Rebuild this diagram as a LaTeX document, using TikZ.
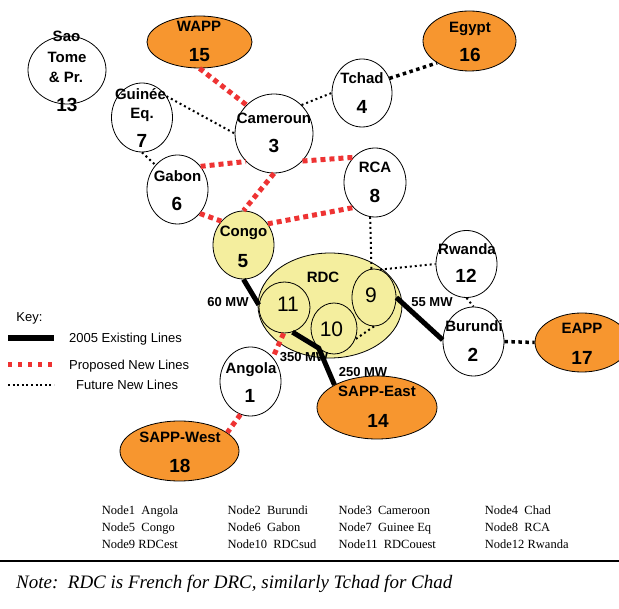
\documentclass[tikz,border=0pt]{standalone}
\usepackage{fontspec}
\setmainfont{Liberation Sans}
\newfontfamily\tablefont{Liberation Serif}
\usetikzlibrary{shapes.geometric}
\definecolor{pool}{HTML}{F7962F}
\definecolor{rdcfill}{HTML}{F4EE9E}
\definecolor{proposed}{HTML}{EE3333}

\tikzset{
  site/.style={ellipse, draw, line width=0.8pt, fill=white, inner sep=0pt},
  poolsite/.style={site, fill=pool},
  zone/.style={site, fill=rdcfill},
  nm/.style={font=\fontsize{15}{15}\selectfont\bfseries, inner sep=0pt,
    text height=10.7pt, text depth=0pt},
  nb/.style={font=\fontsize{19}{19}\selectfont\bfseries, inner sep=0pt,
    text height=13.6pt, text depth=0pt},
  sub/.style={font=\fontsize{21}{21}\selectfont, inner sep=0pt,
    text height=15pt, text depth=0pt},
  mw/.style={font=\fontsize{13}{13}\selectfont\bfseries, inner sep=0pt,
    text height=9.3pt, text depth=0pt},
  keytext/.style={font=\fontsize{13}{13}\selectfont, inner sep=0pt,
    text height=9.3pt, text depth=0pt},
  tabtext/.style={font=\tablefont\fontsize{12.5}{12.5}\selectfont,
    anchor=base west, inner sep=0pt},
  existing/.style={line width=5pt},
  newline/.style={proposed, line width=5pt, dash pattern=on 5pt off 4pt},
  future/.style={line width=2pt, dash pattern=on 2pt off 3pt},
  futurethick/.style={line width=3.5pt, dash pattern=on 3.5pt off 3.5pt},
}

\begin{document}
\begin{tikzpicture}[x=1pt, y=-1pt]
  \useasboundingbox (0,0) rectangle (619,609);

  % RDC zone and its three sub-nodes
  \node[zone, minimum width=144pt, minimum height=105pt] (rdc) at (330,305.5) {};
  \node[zone, minimum width=51pt, minimum height=51pt] (n11) at (284.5,307.5) {};
  \node[zone, minimum width=46pt, minimum height=51pt] (n10) at (334,328.5) {};
  \node[zone, minimum width=44pt, minimum height=57pt] (n9) at (374,297.5) {};

  % Countries
  \node[site, minimum width=78pt, minimum height=68pt] (n13) at (67,70) {};
  \node[site, minimum width=61pt, minimum height=69pt] (n7) at (142,117.5) {};
  \node[site, minimum width=78pt, minimum height=79pt] (n3) at (274,133.5) {};
  \node[site, minimum width=61pt, minimum height=69pt] (n6) at (177.5,189.5) {};
  \node[site, minimum width=60pt, minimum height=68pt] (n4) at (362,93) {};
  \node[site, minimum width=62pt, minimum height=69pt] (n8) at (375,182.5) {};
  \node[zone, minimum width=61pt, minimum height=68pt] (n5) at (243.5,245) {};
  \node[site, minimum width=61pt, minimum height=67pt] (n12) at (466.5,264) {};
  \node[site, minimum width=61pt, minimum height=69pt] (n2) at (473.5,341.5) {};
  \node[site, minimum width=61pt, minimum height=69pt] (n1) at (250.5,381.5) {};

  % Power pools
  \node[poolsite, minimum width=105pt, minimum height=52pt] (n15) at (199.5,42) {};
  \node[poolsite, minimum width=93pt, minimum height=60pt] (n16) at (469.5,41) {};
  \node[poolsite, minimum width=94pt, minimum height=59pt] (n17) at (582,342.5) {};
  \node[poolsite, minimum width=120pt, minimum height=63pt] (n14) at (377,407.5) {};
  \node[poolsite, minimum width=119pt, minimum height=60pt] (n18) at (179.5,451) {};

  % Names and numbers
  \node[nm] (n13a) at (66.5,36) {Sao};
  \node[nm] (n13b) at (67,57.5) {Tome};
  \node[nm] (n13c) at (66,77) {\& Pr.};
  \node[nb] (n13num) at (67,104.5) {13};
  \node[nm] (n15name) at (199,26.5) {WAPP};
  \node[nb] (n15num) at (199.5,54.5) {15};
  \node[nm] (n7a) at (140.5,94) {Guinée};
  \node[nm] (n7b) at (142,113) {Eq.};
  \node[nb] (n7num) at (142,140.5) {7};
  \node[nm] (n3name) at (274,118.5) {Cameroun};
  \node[nb] (n3num) at (274,146) {3};
  \node[nm] (n6name) at (177.5,176) {Gabon};
  \node[nb] (n6num) at (177,204) {6};
  \node[nm] (n5name) at (243.5,231.5) {Congo};
  \node[nb] (n5num) at (243,260.5) {5};
  \node[nm] (n4name) at (362,78) {Tchad};
  \node[nb] (n4num) at (362,107) {4};
  \node[nm] (n16name) at (470,27.5) {Egypt};
  \node[nb] (n16num) at (470,54.5) {16};
  \node[nm] (n8name) at (375,167.5) {RCA};
  \node[nb] (n8num) at (375,196) {8};
  \node[nm] (rdcname) at (323,277.5) {RDC};
  \node[sub] (n11num) at (288,304.5) {11};
  \node[sub] (n10num) at (331.5,329.5) {10};
  \node[sub] (n9num) at (371,295.5) {9};
  \node[nm] (n12name) at (467,249) {Rwanda};
  \node[nb] (n12num) at (466,276) {12};
  \node[nm] (n2name) at (474,326.5) {Burundi};
  \node[nb] (n2num) at (473,355) {2};
  \node[nm] (n17name) at (582,328.5) {EAPP};
  \node[nb] (n17num) at (582,357.5) {17};
  \node[nm] (n14name) at (377,391.5) {SAPP-East};
  \node[nb] (n14num) at (378,421) {14};
  \node[nm] (n1name) at (251,368) {Angola};
  \node[nb] (n1num) at (250,395.5) {1};
  \node[nm] (n18name) at (180,437) {SAPP-West};
  \node[nb] (n18num) at (180,465.5) {18};

  % Capacities of the existing links
  \node[mw] (mw60) at (228,302) {60 MW};
  \node[mw] (mw350) at (304,357) {350 MW};
  \node[mw] (mw250) at (363,372) {250 MW};
  \node[mw] (mw55) at (432,302) {55 MW};

  % Proposed lines
  \draw[newline] (n15.south) -- (n3.134);
  \draw[newline] (n6.45) -- (n3.225);
  \draw[newline] (n3.-44) -- (n8.131);
  \draw[newline] (n6.-47) -- (n5.133);
  \draw[newline] (n3.south) -- (n5.north);
  \draw[newline] (n5.41) -- (n8.-131);
  \draw[newline] (n11.-92) -- (n1.47);
  \draw[newline] (n1.-107) -- (n18.21);

  % Existing lines
  \draw[existing] (n5.south) -- (n11.174);
  \draw[existing] (n11.-72) -- (n10.232) -- (n14.152);
  \draw[existing] (n9.east) -- (n2.177);

  % Future lines
  \draw[future] (n7.41) -- (n3.180);
  \draw[future] (n7.south) -- (n6.132);
  \draw[future] (n3.46) -- (n4.180);
  \draw[futurethick] (n4.28) -- (n16.214);
  \draw[future] (n8.-98) -- (n9.95);
  \draw[future] (n9.78) -- (n12.180);
  \draw[future] (n9.south) -- (n10.-27);
  \draw[future] (n12.south) -- (n2.north);
  \draw[futurethick] (n2.east) -- (n17.west);

  % Key
  \node[keytext] (key) at (29.5,317) {Key:};
  \coordinate (k1a) at (8,338);  \coordinate (k1b) at (54,338);
  \coordinate (k2a) at (8,365);  \coordinate (k2b) at (54,365);
  \coordinate (k3a) at (8,385);  \coordinate (k3b) at (54,385);
  \draw[line width=6pt] (k1a) -- (k1b);
  \draw[proposed, line width=5pt, dash pattern=on 4pt off 6pt] (k2a) -- (k2b);
  \draw[line width=2pt, dash pattern=on 2pt off 2.6pt] (k3a) -- (k3b);
  \node[keytext, anchor=west] (key1) at (69,337.5) {2005 Existing Lines};
  \node[keytext, anchor=west] (key2) at (69,365) {Proposed New Lines};
  \node[keytext, anchor=west] (key3) at (76,385) {Future New Lines};

  % Node table
  \node[tabtext] (t1) at (101.7,515) {Node1\ \ Angola};
  \node[tabtext] (t2) at (227.3,515) {Node2\ \ Burundi};
  \node[tabtext] (t3) at (338.3,515) {Node3\ \ Cameroon};
  \node[tabtext] (t4) at (484.7,515) {Node4\ \ Chad};
  \node[tabtext] (t5) at (101.7,531.5) {Node5\ \ Congo};
  \node[tabtext] (t6) at (227.3,531.5) {Node6\ \ Gabon};
  \node[tabtext] (t7) at (338.3,531.5) {Node7\ \ Guinee Eq};
  \node[tabtext] (t8) at (484.7,531.5) {Node8\ \ RCA};
  \node[tabtext] (t9) at (101.7,548) {Node9 RDCest};
  \node[tabtext] (t10) at (227.3,548) {Node10\ \ RDCsud};
  \node[tabtext] (t11) at (338.3,548) {Node11\ \ RDCouest};
  \node[tabtext] (t12) at (484.7,548) {Node12 Rwanda};

  % Rule and note
  \coordinate (ruleL) at (0,561);
  \coordinate (ruleR) at (619,561);
  \draw[line width=2pt] (ruleL) -- (ruleR);
  \node[anchor=base west, inner sep=0pt,
    font=\tablefont\itshape\fontsize{19}{19}\selectfont] (note) at (16,588)
    {Note:\ \ RDC is French for DRC, similarly Tchad for Chad};
\end{tikzpicture}
\end{document}
